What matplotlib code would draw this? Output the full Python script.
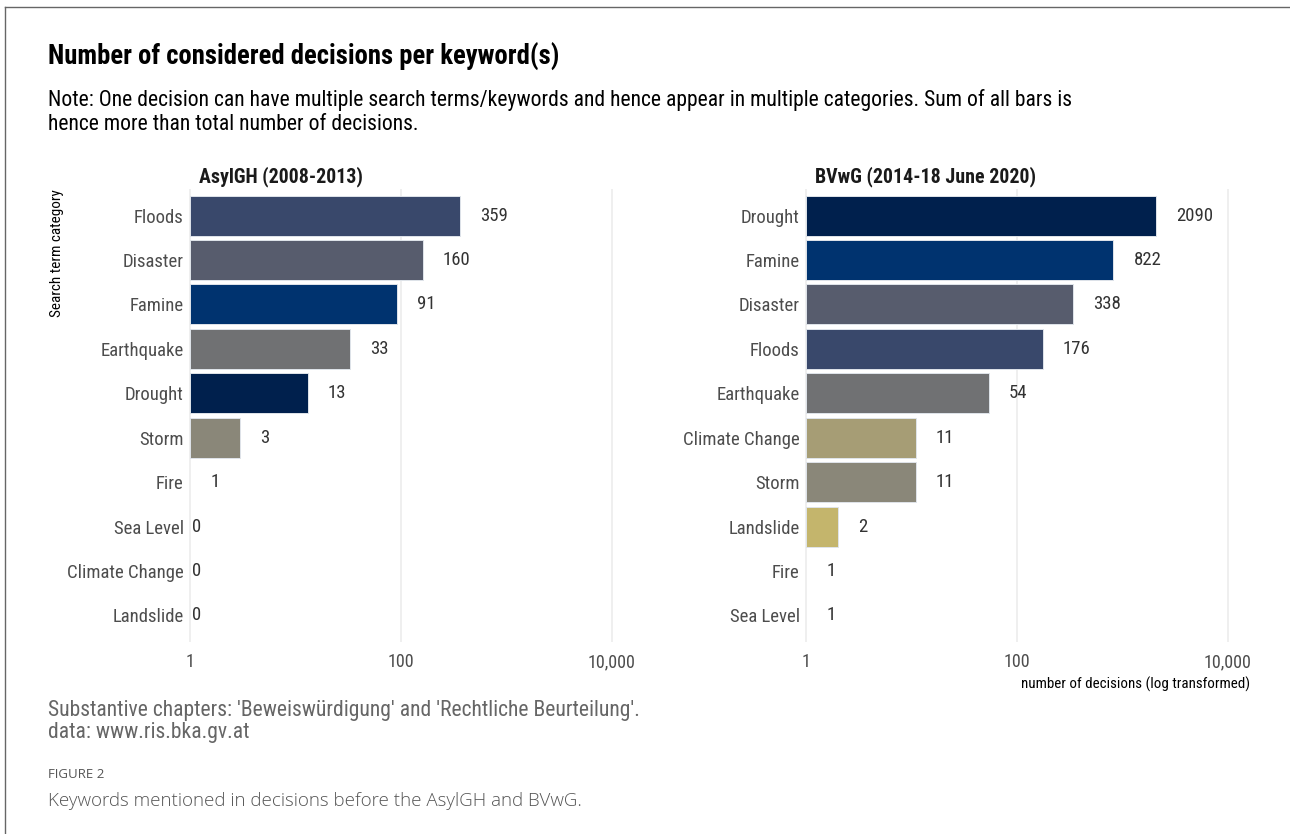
import matplotlib.pyplot as plt
import numpy as np
from matplotlib.lines import Line2D

FONT = ['Roboto Condensed', 'Liberation Sans Narrow', 'DejaVu Sans']
plt.rcParams['font.family'] = FONT

level_order = ["Drought", "Famine", "Floods", "Disaster", "Earthquake", "Storm",
               "Climate Change", "Landslide", "Fire", "Sea Level"]
# viridisLite cividis(10)
level_colors = ["#00204D", "#00336F", "#39486B", "#575C6D", "#707173",
                "#8A8779", "#A69D75", "#C4B56C", "#E4CF5B", "#FFEA46"]

asylgh_keywords = ["Floods", "Disaster", "Famine", "Earthquake", "Drought", "Storm",
                   "Fire", "Sea Level", "Climate Change", "Landslide"]
asylgh_counts = [359, 160, 91, 33, 13, 3, 1, 0, 0, 0]

bvwg_keywords = ["Drought", "Famine", "Disaster", "Floods", "Earthquake", "Climate Change",
                 "Storm", "Landslide", "Fire", "Sea Level"]
bvwg_counts = [2090, 822, 338, 176, 54, 11, 11, 2, 1, 1]

panel_titles = ["AsylGH (2008-2013)", "BVwG (2014-18 June 2020)"]
tick_values = [1, 100, 10000]
tick_labels = ["1", "100", "10,000"]

palette = dict(zip(level_order, level_colors))

W, H = 1290, 834
fig = plt.figure(figsize=(W / 100, H / 100), dpi=100)


def px_axes(left, top, right, bottom):
    return fig.add_axes([left / W, 1 - bottom / H, (right - left) / W, (bottom - top) / H])


def draw_panel(ax, keywords, counts, title):
    y = np.arange(len(keywords))
    for yi, kw, c in zip(y, keywords, counts):
        if c > 1:
            # log scale: bar runs from 1 up to the count
            ax.barh(yi, c - 1, left=1, height=0.9, color=palette[kw],
                    edgecolor='#dfe4ea', linewidth=0.7, zorder=2)
        if c > 0:
            ax.annotate(str(c), (c, yi), xytext=(14.5, 0), textcoords='offset points',
                        ha='left', va='center', fontsize=13.5, color='#333333')
        else:
            ax.annotate(str(c), (1, yi), xytext=(1.5, 0), textcoords='offset points',
                        ha='left', va='center', fontsize=13.5, color='#333333')
    ax.set_xscale('log')
    ax.set_xlim(10 ** -0.02, 10 ** 4.21)
    ax.set_ylim(len(keywords) - 0.4, -0.6)
    ax.set_yticks(y)
    ax.set_yticklabels(keywords, fontsize=13.5, color='#4d4d4d')
    ax.set_xticks(tick_values)
    ax.set_xticklabels(tick_labels, fontsize=13, color='#4d4d4d')
    ax.xaxis.set_minor_locator(plt.NullLocator())
    ax.tick_params(length=0, pad=3)
    ax.tick_params(axis='x', pad=8)
    ax.grid(axis='x', color='#ebebeb', linewidth=1.1, zorder=0)
    ax.set_axisbelow(True)
    for s in ax.spines.values():
        s.set_visible(False)
    ax.text(0.025, 1.005, title, transform=ax.transAxes, ha='left', va='bottom',
            fontsize=14.3, fontweight='bold', color='#1a1a1a')


ax1 = px_axes(188, 189, 634, 642)
ax2 = px_axes(804, 189, 1250, 642)
draw_panel(ax1, asylgh_keywords, asylgh_counts, panel_titles[0])
draw_panel(ax2, bvwg_keywords, bvwg_counts, panel_titles[1])

ax1.set_ylabel("Search term category", fontsize=10.9, color='black', loc='top', labelpad=2)
ax2.set_xlabel("number of decisions (log transformed)", fontsize=10.8, color='black',
               loc='right', labelpad=4)

fig.text(48 / W, 1 - 43 / H, "Number of considered decisions per keyword(s)",
         fontsize=19.2, fontweight='bold', color='black', ha='left', va='top')
fig.text(48 / W, 1 - 89 / H,
         "Note: One decision can have multiple search terms/keywords and hence appear in multiple categories. "
         "Sum of all bars is\nhence more than total number of decisions.",
         fontsize=15.6, color='black', ha='left', va='top', linespacing=1.18)

fig.text(48 / W, 1 - 700 / H,
         "Substantive chapters: 'Beweiswürdigung' and 'Rechtliche Beurteilung'.\ndata: www.ris.bka.gv.at",
         fontsize=15.6, color='#666666', ha='left', va='top', linespacing=1.05)

fig.text(48 / W, 1 - 768 / H, "FIGURE 2", fontsize=9.5, color='#555555',
         ha='left', va='top', family=['Open Sans', 'DejaVu Sans'])
fig.text(48 / W, 1 - 792 / H, "Keywords mentioned in decisions before the AsylGH and BVwG.",
         fontsize=13.5, color='#555555', ha='left', va='top',
         family=['Open Sans', 'DejaVu Sans'], fontweight='light')

# frame of the figure image
fig.add_artist(Line2D([5 / W, 1], [1 - 7 / H, 1 - 7 / H], color='#666666', linewidth=1))
fig.add_artist(Line2D([5 / W, 5 / W], [0, 1 - 7 / H], color='#666666', linewidth=1))

fig.savefig('out.png', dpi=100)
